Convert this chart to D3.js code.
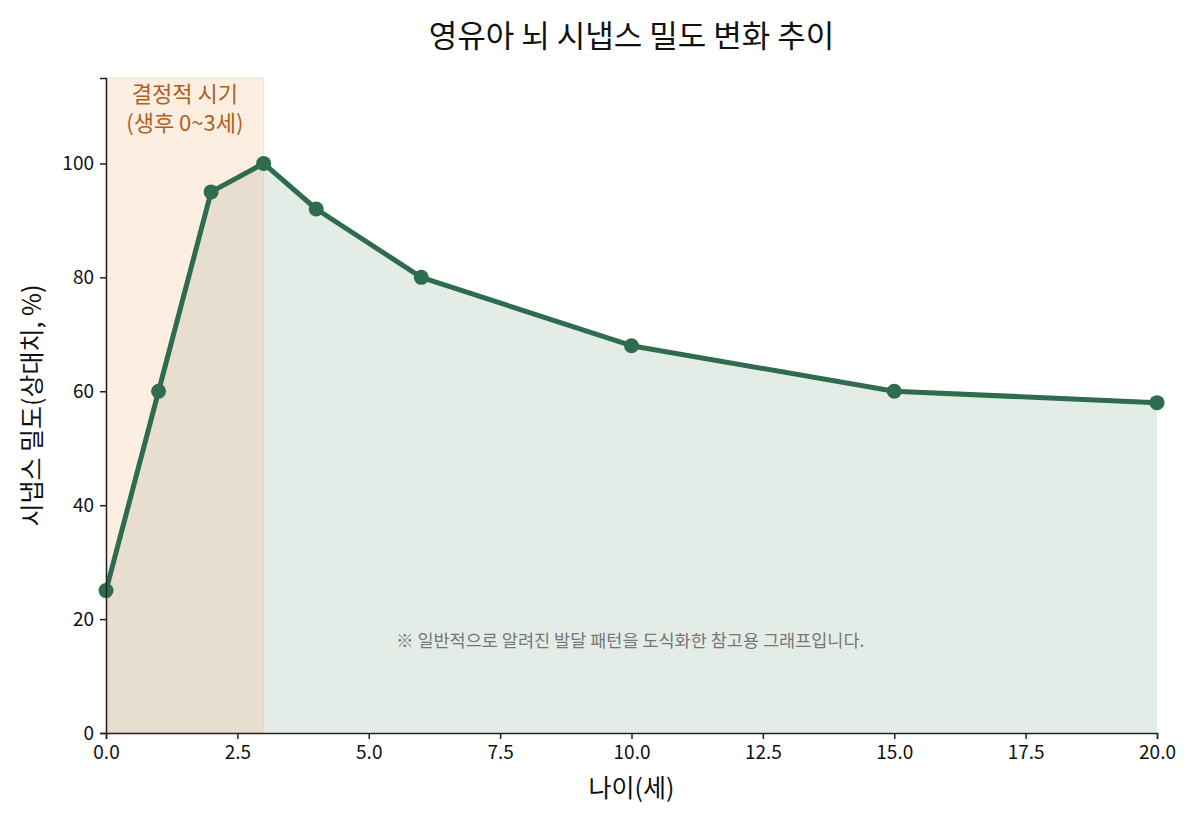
<!DOCTYPE html>
<html>
<head>
<meta charset="utf-8">
<script src="https://cdn.jsdelivr.net/npm/d3@7"></script>
<style>
  body { margin: 0; background: #fff; }
  svg text { font-family: "Noto Sans CJK KR", "Noto Sans", sans-serif; }
</style>
</head>
<body>
<svg id="chart"></svg>
<script>
// data
const ages = [0, 1, 2, 3, 4, 6, 10, 15, 20];
const density = [25, 60, 95, 100, 92, 80, 68, 60, 58];
const xTicks = [0, 2.5, 5, 7.5, 10, 12.5, 15, 17.5, 20];
const yTicks = [0, 20, 40, 60, 80, 100];
const criticalSpan = [0, 3];

const width = 1200, height = 825;
const margin = { top: 78, right: 43, bottom: 92, left: 106 };
const FONT = '"Noto Sans CJK KR", "Noto Sans", sans-serif';

const svg = d3.select("#chart")
  .attr("width", width)
  .attr("height", height);

const x = d3.scaleLinear().domain([0, 20]).range([margin.left, width - margin.right]);
const y = d3.scaleLinear().domain([0, 115]).range([height - margin.bottom, margin.top]);

const pts = ages.map((a, i) => ({ a, v: density[i] }));

// area under curve
const area = d3.area().x(d => x(d.a)).y0(y(0)).y1(d => y(d.v));
svg.append("path")
  .datum(pts)
  .attr("d", area)
  .attr("fill", "#2e6b4f")
  .attr("fill-opacity", 0.13);

// critical period shading (on top of the area)
svg.append("rect")
  .attr("x", x(criticalSpan[0]))
  .attr("y", y(115))
  .attr("width", x(criticalSpan[1]) - x(criticalSpan[0]))
  .attr("height", y(0) - y(115))
  .attr("fill", "#f4a261")
  .attr("fill-opacity", 0.18)
  .attr("stroke", "#f4a261")
  .attr("stroke-opacity", 0.25)
  .attr("stroke-width", 1);

// line
const line = d3.line().x(d => x(d.a)).y(d => y(d.v));
svg.append("path")
  .datum(pts)
  .attr("d", line)
  .attr("fill", "none")
  .attr("stroke", "#2e6b4f")
  .attr("stroke-width", 5)
  .attr("stroke-linejoin", "round");

svg.selectAll("circle.pt")
  .data(pts)
  .join("circle")
  .attr("class", "pt")
  .attr("cx", d => x(d.a))
  .attr("cy", d => y(d.v))
  .attr("r", 7.5)
  .attr("fill", "#2e6b4f");

// axes
const xAxis = svg.append("g")
  .attr("transform", `translate(0,${y(0)})`)
  .call(d3.axisBottom(x).tickValues(xTicks).tickFormat(d3.format(".1f")).tickSizeOuter(0).tickSize(6).tickPadding(5));
const yAxis = svg.append("g")
  .attr("transform", `translate(${x(0)},0)`)
  .call(d3.axisLeft(y).tickValues(yTicks).tickSizeOuter(0).tickSize(6).tickPadding(6));
[xAxis, yAxis].forEach(g => {
  g.attr("font-family", FONT).attr("font-size", 19);
  g.select(".domain").attr("stroke", "#222").attr("stroke-width", 1.5);
  g.selectAll(".tick line").attr("stroke", "#222").attr("stroke-width", 1.5);
  g.selectAll(".tick text").attr("fill", "#111");
});
xAxis.selectAll(".tick text").attr("dy", "0.8em");

// span label
const spanMid = x((criticalSpan[0] + criticalSpan[1]) / 2);
svg.append("text")
  .attr("x", spanMid).attr("y", 102)
  .attr("text-anchor", "middle")
  .attr("font-size", 22).attr("fill", "#b0601d")
  .text("결정적 시기");
svg.append("text")
  .attr("x", spanMid).attr("y", 131)
  .attr("text-anchor", "middle")
  .attr("font-size", 22).attr("fill", "#b0601d")
  .text("(생후 0~3세)");

// note
svg.append("text")
  .attr("x", 396).attr("y", 647)
  .attr("font-size", 17.5).attr("fill", "#777")
  .text("※ 일반적으로 알려진 발달 패턴을 도식화한 참고용 그래프입니다.");

// titles
svg.append("text")
  .attr("x", (margin.left + width - margin.right) / 2).attr("y", 47)
  .attr("text-anchor", "middle")
  .attr("font-size", 31).attr("fill", "#111")
  .text("영유아 뇌 시냅스 밀도 변화 추이");
svg.append("text")
  .attr("x", (margin.left + width - margin.right) / 2).attr("y", 797)
  .attr("text-anchor", "middle")
  .attr("font-size", 25).attr("fill", "#111")
  .text("나이(세)");
svg.append("text")
  .attr("transform", `translate(41,${(y(0) + y(115)) / 2}) rotate(-90)`)
  .attr("text-anchor", "middle")
  .attr("font-size", 25).attr("fill", "#111")
  .text("시냅스 밀도(상대치, %)");
</script>
</body>
</html>
